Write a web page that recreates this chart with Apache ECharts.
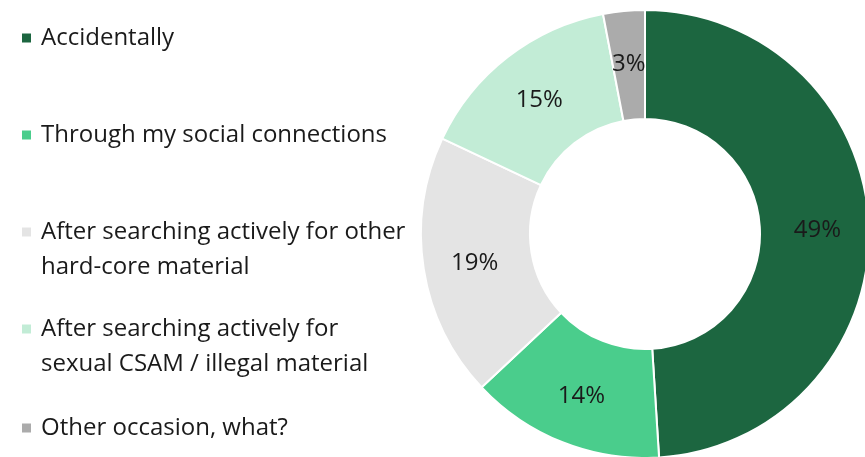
<!DOCTYPE html>
<html>
<head>
<meta charset="utf-8">
<script src="https://cdn.jsdelivr.net/npm/echarts@6/dist/echarts.min.js"></script>
<style>
  html, body { margin: 0; padding: 0; background: #fff; }
  #chart { width: 865px; height: 457px; }
</style>
</head>
<body>
<div id="chart"></div>
<script>
// How respondents first came across the material (share of answers, %)
const categories = [
  'Accidentally',
  'Through my social connections',
  'After searching actively for other\nhard-core material',
  'After searching actively for\nsexual CSAM / illegal material',
  'Other occasion, what?'
];
const shares = [49, 14, 19, 15, 3];
const colors = ['#1c6640', '#4acd8c', '#e4e4e4', '#c2ecd6', '#ababab'];

const FONT = 'Open Sans';
const FONT_SIZE = 24;
const LINE_H = 35;
const TEXT_COLOR = '#1a1a1a';

// Centre of the first text line of each legend entry
const legendLineY = [38, 135, 232, 329, 428];

// Legend shows the first line beside its swatch; wrapped lines follow below
const legends = categories.map((name, i) => ({
  orient: 'vertical',
  left: 20,
  top: legendLineY[i] - LINE_H / 2,
  padding: 0,
  icon: 'rect',
  itemWidth: 11,
  itemHeight: 11,
  selectedMode: false,
  data: [{ name: name }],
  formatter: n => n.split('\n')[0],
  textStyle: {
    fontFamily: FONT,
    fontSize: FONT_SIZE,
    lineHeight: LINE_H,
    color: TEXT_COLOR,
    padding: [0, 0, 0, 4]
  }
}));

const wrappedLines = [];
categories.forEach((name, i) => {
  name.split('\n').slice(1).forEach((line, k) => {
    wrappedLines.push({
      type: 'text',
      x: 41,
      y: legendLineY[i] + (k + 1) * LINE_H,
      silent: true,
      style: {
        text: line,
        font: FONT_SIZE + 'px "' + FONT + '"',
        fill: TEXT_COLOR,
        verticalAlign: 'middle',
        align: 'left'
      }
    });
  });
});

const chart = echarts.init(document.getElementById('chart'));
chart.setOption({
  animation: false,
  color: colors,
  legend: legends,
  graphic: wrappedLines,
  series: [{
    type: 'pie',
    center: [645, 234],
    radius: [115, 224],
    startAngle: 90,
    clockwise: true,
    avoidLabelOverlap: false,
    itemStyle: { borderColor: '#fff', borderWidth: 2 },
    label: {
      show: true,
      position: 'inside',
      formatter: '{c}%',
      fontFamily: FONT,
      fontSize: FONT_SIZE,
      color: TEXT_COLOR,
      offset: [0, 2]
    },
    labelLine: { show: false },
    emphasis: { disabled: true },
    data: categories.map((name, i) => ({ name: name, value: shares[i] }))
  }]
});
</script>
</body>
</html>
